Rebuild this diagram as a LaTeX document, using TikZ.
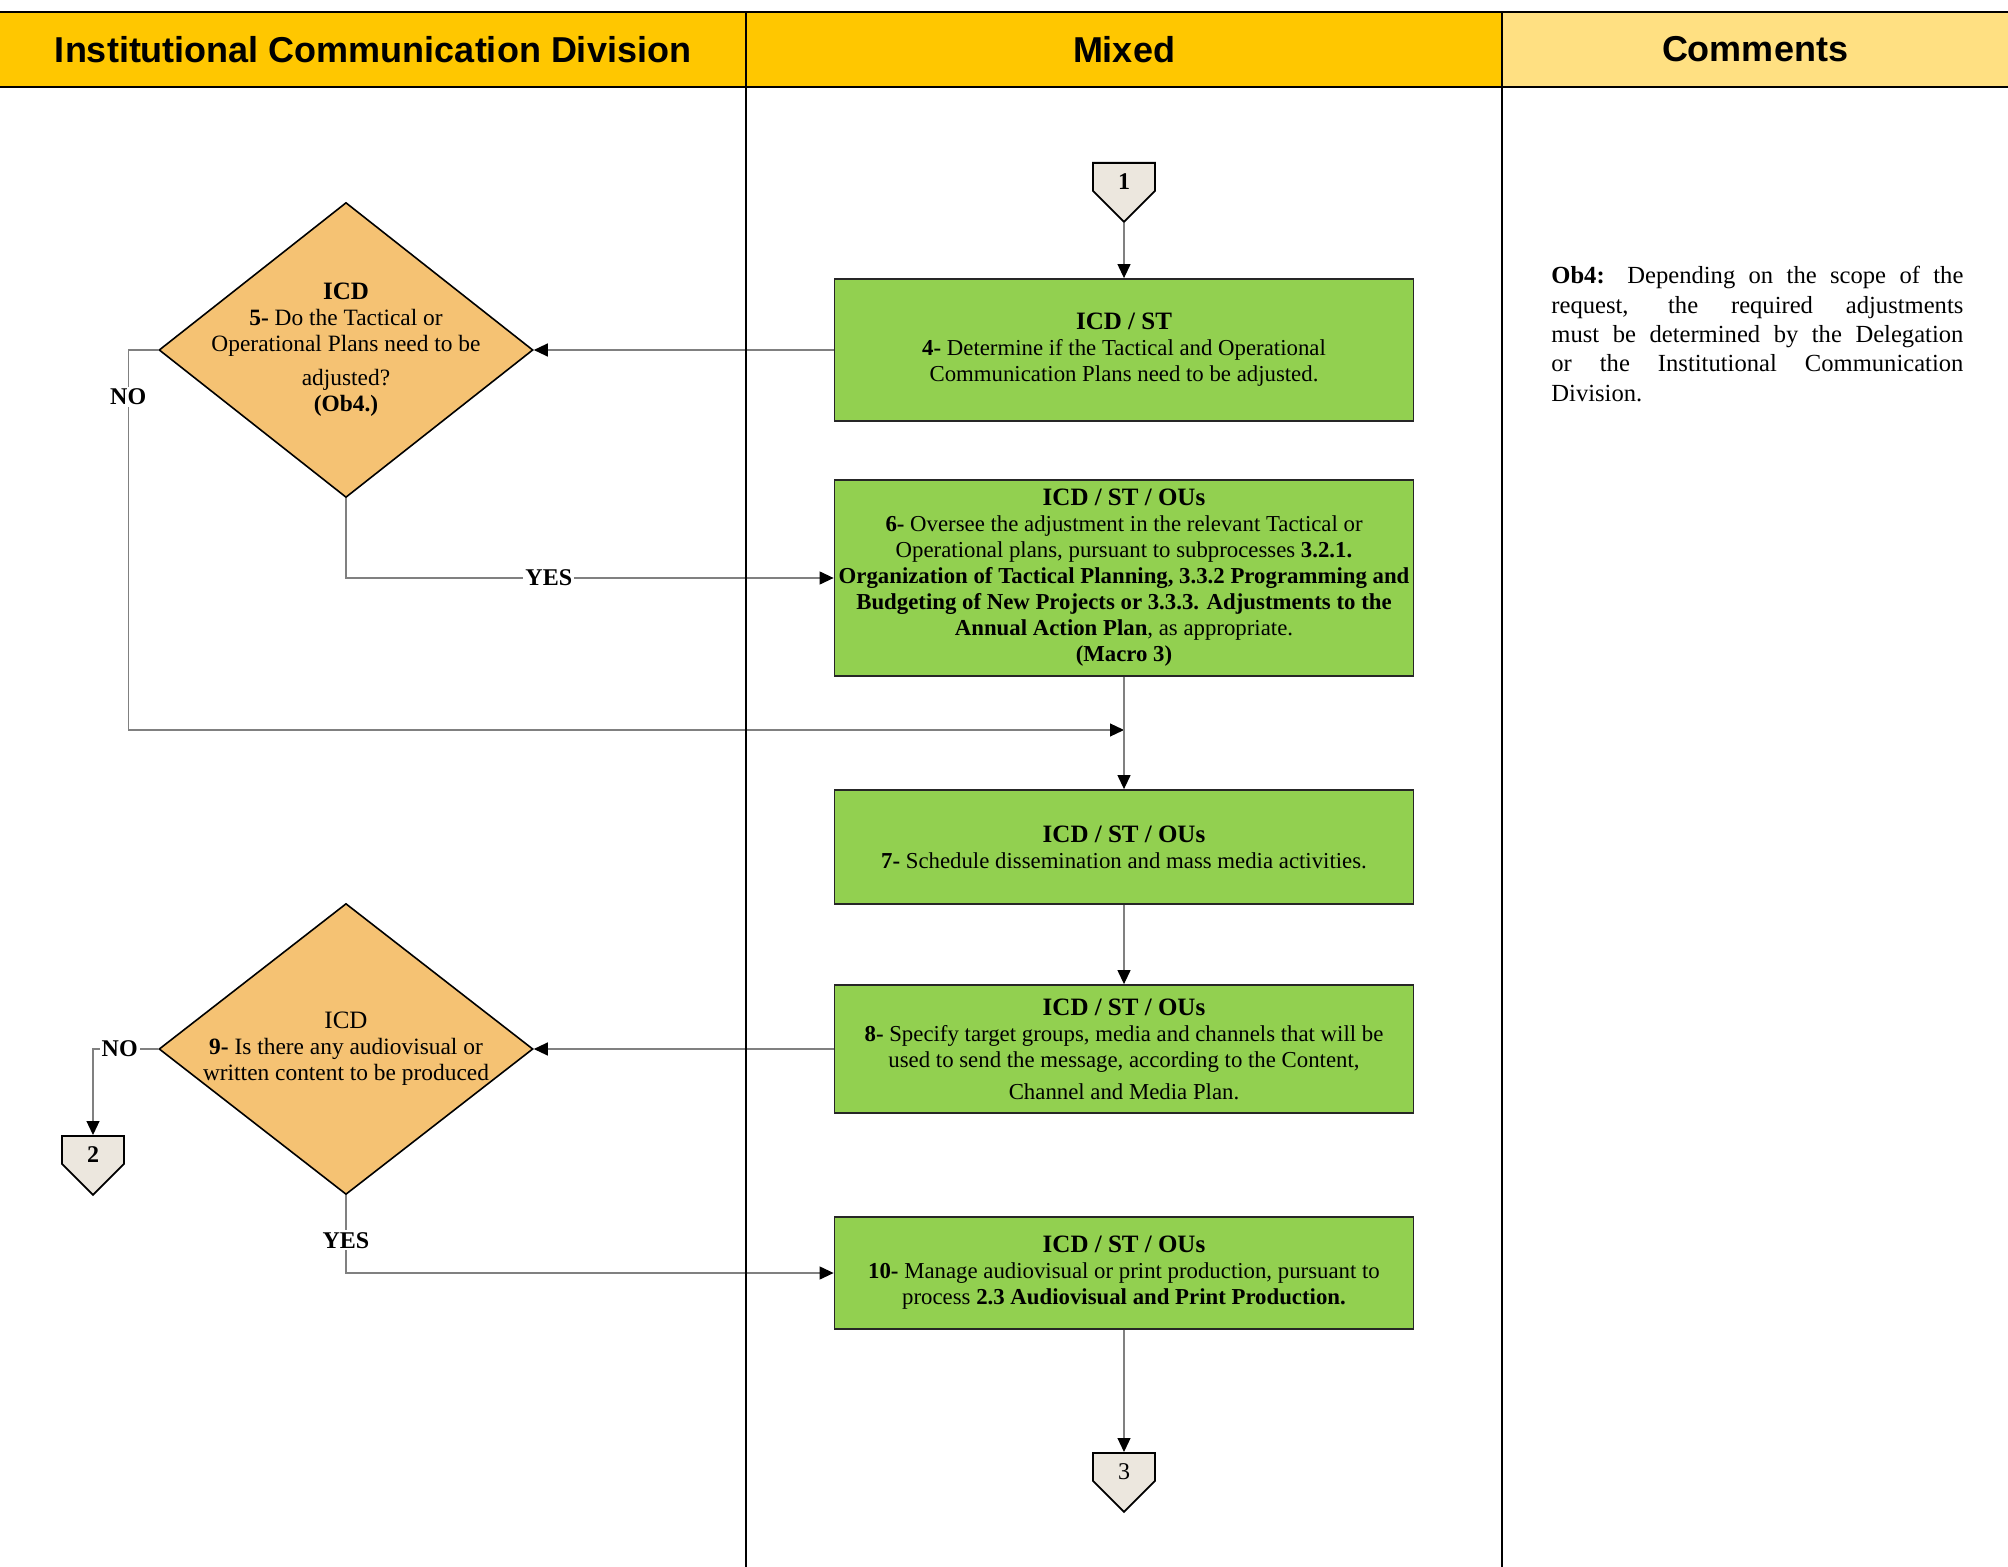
\documentclass[tikz,border=0pt]{standalone}
\usepackage{fontspec}
\setmainfont{Liberation Serif}
\newfontfamily\headfont{Liberation Sans}
\usetikzlibrary{arrows.meta,shapes.geometric,shapes.symbols}

\definecolor{headgold}{RGB}{255,199,0}
\definecolor{headlight}{RGB}{255,224,130}
\definecolor{taskgreen}{RGB}{146,208,80}
\definecolor{decorange}{RGB}{245,194,115}
\definecolor{pagegray}{RGB}{236,231,222}
\definecolor{flowgray}{RGB}{128,128,128}

\newcommand{\taskowner}[1]{{\fontsize{12.5}{14}\selectfont\textbf{#1}}}

\begin{document}
\begin{tikzpicture}[x=0.5pt,y=-0.5pt,
    head/.style={font={\fontsize{18}{20}\headfont\bfseries}},
    task/.style={draw=black!85,line width=0.9pt,fill=taskgreen,minimum width=289.5pt,
        align=center,inner sep=0pt,font=\fontsize{11.4}{13}\selectfont},
    decision/.style={diamond,draw=black,line width=0.8pt,fill=decorange,
        minimum width=187pt,minimum height=147.5pt,inner sep=0pt},
    asktext/.style={align=center,font=\fontsize{11.7}{13}\selectfont},
    offpage/.style={signal,signal to=south,signal from=nothing,draw=black,line width=0.9pt,
        fill=pagegray,minimum width=31pt,minimum height=17pt,inner sep=0pt,
        text height=13pt,text depth=0pt,font=\fontsize{12}{13}\selectfont},
    flow/.style={draw=flowgray,line width=0.6pt},
    tip/.style={-{Triangle[length=7pt,width=6.5pt,color=black]}},
    answer/.style={fill=white,inner sep=1pt,font=\fontsize{12}{13}\selectfont\bfseries},
    lane/.style={line width=1.2pt}]
    \useasboundingbox (0,0) rectangle (2008,1567);

    % header and lanes
    \fill[headgold] (0,12) rectangle (1502,87);
    \fill[headlight] (1502,12) rectangle (2008,87);
    \node[head] (h1) at (373,49.5) {Institutional Communication Division};
    \node[head] (h2) at (1124,49.5) {Mixed};
    \node[head] (h3) at (1755,49.5) {Comments};

    % steps
    \node[offpage,anchor=north] (c1) at (1124,162) {\textbf{1}};
    \node[task,minimum height=71pt] (t4) at (1124,350) {\taskowner{ICD / ST}\\
        \textbf{4-} Determine if the Tactical and Operational\\
        Communication Plans need to be adjusted.};
    \node[decision,label={[asktext,name=d5text]center:{\taskowner{ICD}\\
        \textbf{5-} Do the Tactical or\\Operational Plans need to be\\[4pt]
        adjusted?\\\textbf{(Ob4.)}}}] (d5) at (346,350) {};
    \node[task,minimum height=98pt] (t6) at (1124,578) {\taskowner{ICD / ST / OUs}\\
        \textbf{6-} Oversee the adjustment in the relevant Tactical or\\
        Operational plans, pursuant to subprocesses \textbf{3.2.1.}\\
        \textbf{Organization of Tactical Planning, 3.3.2 Programming and}\\
        \textbf{Budgeting of New Projects or 3.3.3. Adjustments to the}\\
        \textbf{Annual Action Plan}, as appropriate.\\
        \textbf{(Macro 3)}};
    \coordinate (merge) at (1124,730);
    \node[task,minimum height=57pt] (t7) at (1124,847) {\taskowner{ICD / ST / OUs}\\
        \textbf{7-} Schedule dissemination and mass media activities.};
    \node[task,minimum height=64pt] (t8) at (1124,1049) {\taskowner{ICD / ST / OUs}\\
        \textbf{8-} Specify target groups, media and channels that will be\\
        used to send the message, according to the Content,\\[3pt]
        Channel and Media Plan.};
    \node[decision,minimum height=145.5pt,label={[asktext,name=d9text]center:{%
        {\fontsize{12.5}{14}\selectfont ICD}\\
        \textbf{9-} Is there any audiovisual or\\written content to be produced}}] (d9) at (346,1049) {};
    \node[offpage,anchor=north] (c2) at (93,1135) {\textbf{2}};
    \node[task,minimum height=56pt] (t10) at (1124,1273) {\taskowner{ICD / ST / OUs}\\
        \textbf{10-} Manage audiovisual or print production, pursuant to\\
        process \textbf{2.3 Audiovisual and Print Production.}};
    \node[offpage,anchor=north] (c3) at (1124,1452) {3};

    % connectors
    \draw[flow,tip] (c1.south) -- (t4.north);
    \draw[flow,tip] (t4.west) -- (d5.east);
    \draw[flow,tip] (d5.south) |- node[answer,pos=0.708] {YES} (t6.west);
    \draw[flow,tip] (d5.west) -- ++(-30,0) |- node[answer,pos=0.062] {NO} (merge);
    \draw[flow,tip] (t6.south) -- (t7.north);
    \draw[flow,tip] (t7.south) -- (t8.north);
    \draw[flow,tip] (t8.west) -- (d9.east);
    \draw[flow,tip] (d9.west) -| node[answer,pos=0.295] {NO} (c2.north);
    \draw[flow,tip] (d9.south) |- node[answer,pos=0.29] {YES} (t10.west);
    \draw[flow,tip] (t10.south) -- (c3.north);

    % comments
    \node[anchor=north west,text width=206pt,align=justify,inner sep=0pt,
        font=\fontsize{12.3}{14.7}\selectfont] (ob4) at (1551,266)
        {\textbf{Ob4:} Depending on the scope of the\linebreak
        request, the required adjustments\linebreak
        must be determined by the Delegation\linebreak
        or the Institutional Communication\linebreak
        Division.};

    \draw[lane] (0,12) -- (2008,12);
    \draw[lane] (0,87) -- (2008,87);
    \draw[lane] (746,12) -- (746,1567);
    \draw[lane] (1502,12) -- (1502,1567);
\end{tikzpicture}
\end{document}
